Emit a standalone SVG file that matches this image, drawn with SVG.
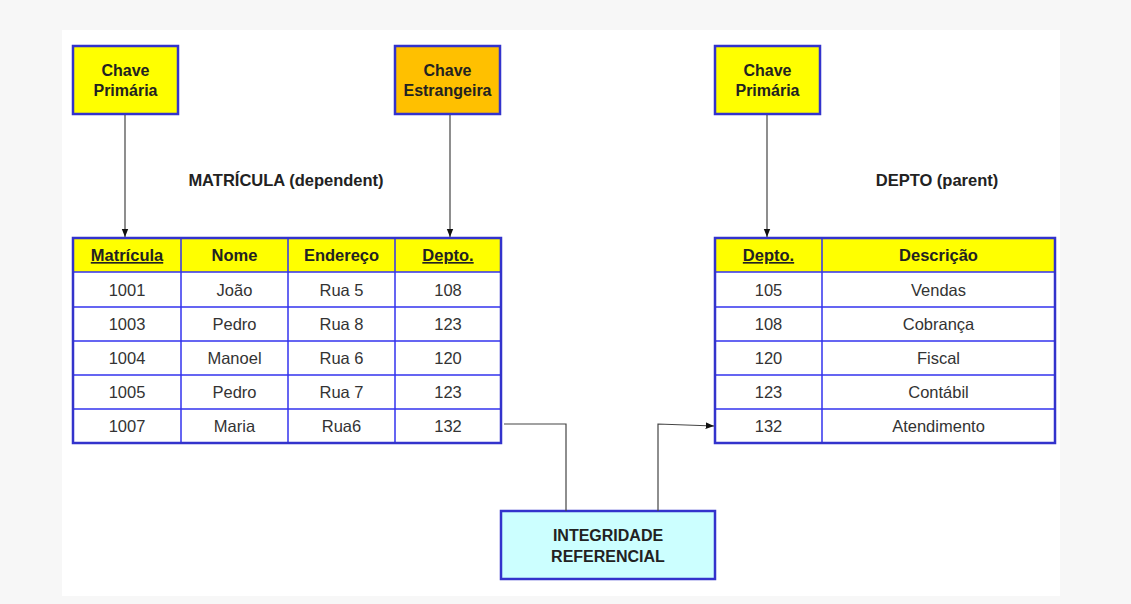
<svg xmlns="http://www.w3.org/2000/svg" width="1131" height="604" viewBox="0 0 1131 604">
<style>
.key{stroke:#3333cc;stroke-width:2.5}
.kt{font-family:"Liberation Sans",Arial,sans-serif;font-weight:bold;font-size:16px;fill:#222;text-anchor:middle}
.title{font-family:"Liberation Sans",Arial,sans-serif;font-weight:bold;font-size:16.5px;fill:#222;text-anchor:middle}
.hd{fill:#ffff00}
.grid{fill:none;stroke:#3333ee;stroke-width:1.5}
.outer{fill:none;stroke:#3333cc;stroke-width:2.5}
.ht{font-family:"Liberation Sans",Arial,sans-serif;font-weight:bold;font-size:16.5px;fill:#222;text-anchor:middle}
.u{text-decoration:underline}
.ct{font-family:"Liberation Sans",Arial,sans-serif;font-size:16.5px;fill:#333;text-anchor:middle}
.conn{fill:none;stroke:#444;stroke-width:1.2}
</style>
<defs>
<marker id="ah" viewBox="0 0 10 10" refX="10" refY="5" markerWidth="7" markerHeight="7" orient="auto">
<path d="M0,1 L10,5 L0,9 z" fill="#111"/>
</marker>
</defs>
<rect x="0" y="0" width="1131" height="604" fill="#f7f7f7"/>
<rect x="62" y="30" width="998" height="566" fill="#ffffff"/>

<g id="pk1">
<rect class="key" x="73" y="46" width="105" height="68" fill="#ffff00"/>
<text class="kt" x="125.5" y="76">Chave</text>
<text class="kt" x="125.5" y="96">Primária</text>
</g>
<g id="fk">
<rect class="key" x="395" y="46" width="105" height="68" fill="#ffc000"/>
<text class="kt" x="447.5" y="76">Chave</text>
<text class="kt" x="447.5" y="96">Estrangeira</text>
</g>
<g id="pk2">
<rect class="key" x="715" y="46" width="105" height="68" fill="#ffff00"/>
<text class="kt" x="767.5" y="76">Chave</text>
<text class="kt" x="767.5" y="96">Primária</text>
</g>

<g id="title-matricula"><text class="title" x="286" y="186">MATRÍCULA (dependent)</text></g>
<g id="title-depto"><text class="title" x="937" y="186">DEPTO (parent)</text></g>

<g id="table-matricula">
<rect class="hd" x="73" y="238" width="428" height="34"/>
<rect fill="#fff" x="73" y="272" width="428" height="171"/>
<path class="grid" d="M73,272H501M73,307H501M73,341H501M73,375H501M73,409H501M181,238V443M288,238V443M395,238V443"/>
<rect class="outer" x="73" y="238" width="428" height="205"/>
<text class="ht u" x="127" y="261">Matrícula</text>
<text class="ht" x="234.5" y="261">Nome</text>
<text class="ht" x="341.5" y="261">Endereço</text>
<text class="ht u" x="448" y="261">Depto.</text>
<g class="ct">
<text x="127" y="296">1001</text><text x="234.5" y="296">João</text><text x="341.5" y="296">Rua 5</text><text x="448" y="296">108</text>
<text x="127" y="330">1003</text><text x="234.5" y="330">Pedro</text><text x="341.5" y="330">Rua 8</text><text x="448" y="330">123</text>
<text x="127" y="364">1004</text><text x="234.5" y="364">Manoel</text><text x="341.5" y="364">Rua 6</text><text x="448" y="364">120</text>
<text x="127" y="398">1005</text><text x="234.5" y="398">Pedro</text><text x="341.5" y="398">Rua 7</text><text x="448" y="398">123</text>
<text x="127" y="432">1007</text><text x="234.5" y="432">Maria</text><text x="341.5" y="432">Rua6</text><text x="448" y="432">132</text>
</g>
</g>

<g id="table-depto">
<rect class="hd" x="715" y="238" width="340" height="34"/>
<rect fill="#fff" x="715" y="272" width="340" height="171"/>
<path class="grid" d="M715,272H1055M715,307H1055M715,341H1055M715,375H1055M715,409H1055M822,238V443"/>
<rect class="outer" x="715" y="238" width="340" height="205"/>
<text class="ht u" x="768.5" y="261">Depto.</text>
<text class="ht" x="938.5" y="261">Descrição</text>
<g class="ct">
<text x="768.5" y="296">105</text><text x="938.5" y="296">Vendas</text>
<text x="768.5" y="330">108</text><text x="938.5" y="330">Cobrança</text>
<text x="768.5" y="364">120</text><text x="938.5" y="364">Fiscal</text>
<text x="768.5" y="398">123</text><text x="938.5" y="398">Contábil</text>
<text x="768.5" y="432">132</text><text x="938.5" y="432">Atendimento</text>
</g>
</g>

<g id="integridade">
<rect x="501" y="511" width="214" height="68" fill="#ccffff" stroke="#3333cc" stroke-width="2.5"/>
<text class="kt" x="608" y="541">INTEGRIDADE</text>
<text class="kt" x="608" y="562">REFERENCIAL</text>
</g>

<g id="connectors">
<path class="conn" d="M125,115V237" marker-end="url(#ah)"/>
<path class="conn" d="M450,115V237" marker-end="url(#ah)"/>
<path class="conn" d="M767,115V237" marker-end="url(#ah)"/>
<path class="conn" d="M504,424H566V511"/>
<path class="conn" d="M658,511V424L714,426" marker-end="url(#ah)"/>
</g>
</svg>
